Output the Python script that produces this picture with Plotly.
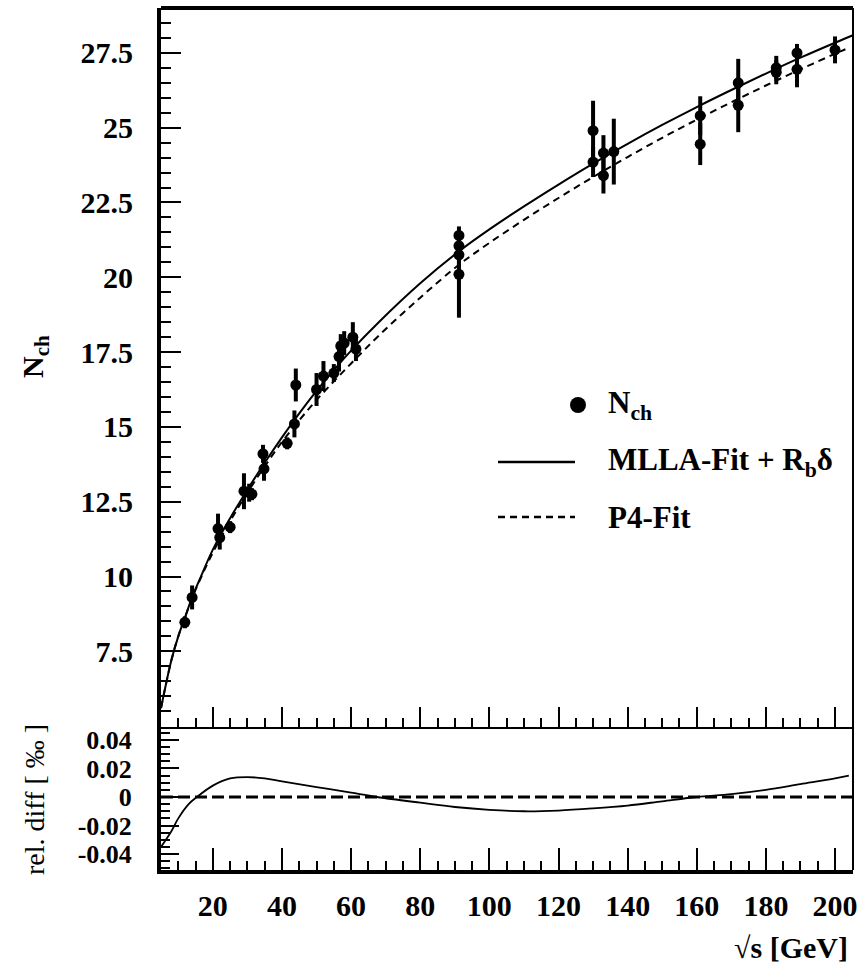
import plotly.graph_objects as go

# ---------------- data ----------------
sqrt_s = [11.9, 14.0, 21.5, 22.0, 25.0, 29.0, 30.5, 31.3, 34.5, 34.8, 41.5, 43.6, 44.0,
          50.0, 52.0, 55.0, 56.5, 57.0, 58.0, 60.5, 61.4,
          91.2, 91.2, 91.2, 91.2,
          130.0, 130.0, 133.0, 133.0, 136.0, 161.0, 161.0, 172.0, 172.0,
          183.0, 183.0, 189.0, 189.0, 200.0]
n_ch = [8.47, 9.3, 11.6, 11.3, 11.65, 12.85, 12.8, 12.75, 14.1, 13.6, 14.45, 15.1, 16.4,
        16.25, 16.7, 16.8, 17.35, 17.7, 17.8, 18.0, 17.6,
        21.4, 21.05, 20.75, 20.1,
        24.9, 23.85, 24.15, 23.4, 24.2, 25.4, 24.45, 26.5, 25.75,
        27.0, 26.85, 27.5, 26.95, 27.6]
n_ch_err = [0.2, 0.4, 0.5, 0.4, 0.2, 0.6, 0.3, 0.2, 0.3, 0.4, 0.2, 0.45, 0.55,
            0.55, 0.5, 0.3, 0.5, 0.4, 0.4, 0.5, 0.4,
            0.3, 0.3, 0.4, 1.45,
            1.0, 0.5, 0.6, 0.6, 1.1, 0.65, 0.7, 0.8, 0.9,
            0.4, 0.4, 0.3, 0.6, 0.45]

fit_x = [5, 8, 10, 12, 14, 16, 20, 25, 30, 35, 40, 45, 50, 55, 60, 68, 80, 91, 100, 110,
         120, 130, 140, 150, 160, 170, 180, 190, 200, 205]
mlla_fit = [5.6, 7.2, 8.0, 8.65, 9.3, 9.85, 10.9, 11.95, 12.9, 13.8, 14.65, 15.45, 16.2,
            16.9, 17.55, 18.5, 19.8, 20.85, 21.6, 22.37, 23.1, 23.8, 24.46, 25.09, 25.69,
            26.26, 26.81, 27.34, 27.84, 28.08]
p4_x = [5, 8, 10, 12, 14, 16, 20, 25, 30, 35, 40, 45, 50, 55, 60, 68, 80, 91, 100, 110,
        120, 130, 140, 150, 160, 170, 180, 190, 200, 203]
p4_fit = [5.6, 7.2, 8.0, 8.65, 9.28, 9.82, 10.8, 11.85, 12.8, 13.68, 14.5, 15.22, 15.9,
          16.52, 17.12, 18.05, 19.32, 20.4, 21.15, 21.92, 22.65, 23.35, 24.02, 24.66, 25.27,
          25.85, 26.41, 26.95, 27.47, 27.62]

diff_x = [5, 8, 10, 13, 15.4, 20, 25, 30, 35, 40, 50, 60, 67.5, 80, 90, 100, 110,
          120, 130, 140, 150, 160, 170, 180, 190, 200, 204]
rel_diff = [-0.035, -0.024, -0.015, -0.005, 0.0, 0.008, 0.013, 0.014, 0.013, 0.011,
            0.007, 0.003, 0.0, -0.004, -0.007, -0.009, -0.010, -0.0095, -0.008, -0.006,
            -0.003, 0.0, 0.002, 0.005, 0.009, 0.013, 0.015]

y_ticks = [7.5, 10, 12.5, 15, 17.5, 20, 22.5, 25, 27.5]
y_tick_text = ["7.5", "10", "12.5", "15", "17.5", "20", "22.5", "25", "27.5"]
d_ticks = [-0.04, -0.02, 0, 0.02, 0.04]
d_tick_text = ["-0.04", "-0.02", "0", "0.02", "0.04"]
x_ticks = [20, 40, 60, 80, 100, 120, 140, 160, 180, 200]

# ---------------- layout helpers ----------------
W, H = 868, 965
ML, MR, MT, MB = 161, 15, 8, 95
PW, PH = W - ML - MR, H - MT - MB
SPLIT = (870 - 727) / PH


def px(xpix):
    return (xpix - ML) / PW


def py(ypix):
    return (H - MB - ypix) / PH


FONT = "Liberation Serif"
tick_font = dict(family=FONT, size=30, color="black", weight="bold")
small_tick_font = dict(family=FONT, size=26, color="black", weight="bold")

fig = go.Figure()

fig.add_trace(go.Scatter(x=fit_x, y=mlla_fit, mode="lines", line=dict(color="black", width=2, shape="spline"),
                         xaxis="x", yaxis="y", showlegend=False, name="MLLA-Fit + Rbδ"))
fig.add_trace(go.Scatter(x=p4_x, y=p4_fit, mode="lines",
                         line=dict(color="black", width=2, dash="7px,5px", shape="spline"),
                         xaxis="x", yaxis="y", showlegend=False, name="P4-Fit"))
fig.add_trace(go.Scatter(x=sqrt_s, y=n_ch, mode="markers",
                         marker=dict(color="black", size=11),
                         error_y=dict(type="data", array=n_ch_err, color="black", thickness=4, width=0),
                         xaxis="x", yaxis="y", showlegend=False, name="Nch"))
fig.add_trace(go.Scatter(x=diff_x, y=rel_diff, mode="lines", line=dict(color="black", width=1.8, shape="spline"),
                         xaxis="x2", yaxis="y2", showlegend=False, name="rel. diff"))

shapes = [
    dict(type="line", xref="x2 domain", yref="y2", x0=0, x1=1, y0=0, y1=0,
         line=dict(color="black", width=3, dash="12px,5px")),
    dict(type="line", xref="x domain", yref="y domain", x0=0, x1=1, y0=1, y1=1,
         line=dict(color="black", width=4)),
    dict(type="line", xref="x domain", yref="y domain", x0=1, x1=1, y0=0, y1=1,
         line=dict(color="black", width=2)),
    dict(type="line", xref="x2 domain", yref="y2 domain", x0=1, x1=1, y0=0, y1=1,
         line=dict(color="black", width=2)),
    # legend
    dict(type="circle", xref="paper", yref="paper", x0=px(570), x1=px(586), y0=py(413), y1=py(397),
         fillcolor="black", line=dict(color="black", width=0)),
    dict(type="line", xref="paper", yref="paper", x0=px(498), x1=px(575), y0=py(462), y1=py(462),
         line=dict(color="black", width=2.5)),
    dict(type="line", xref="paper", yref="paper", x0=px(498), x1=px(575), y0=py(517), y1=py(517),
         line=dict(color="black", width=2.5, dash="7px,5px")),
]

ann_font = dict(family=FONT, size=31, color="black", weight="bold")
annotations = [
    dict(text="N<sub>ch</sub>", x=px(35), y=py(357), xref="paper", yref="paper", textangle=-90,
         xanchor="center", yanchor="middle",
         showarrow=False, font=dict(family=FONT, size=30, color="black", weight="bold")),
    dict(text="rel. diff [ ‰ ]", x=px(34), y=py(800), xref="paper", yref="paper", textangle=-90,
         xanchor="center", yanchor="middle",
         showarrow=False, font=dict(family=FONT, size=28, color="black")),
    dict(text="√s [GeV]", x=px(850), y=py(947), xref="paper", yref="paper",
         xanchor="right", yanchor="middle",
         showarrow=False, font=dict(family=FONT, size=30, color="black", weight="bold")),
    dict(text="N<sub>ch</sub>", x=px(606), y=py(405), xref="paper", yref="paper",
         xanchor="left", yanchor="middle", showarrow=False, font=ann_font),
    dict(text="MLLA-Fit + R<sub>b</sub>δ", x=px(606), y=py(462), xref="paper", yref="paper",
         xanchor="left", yanchor="middle", showarrow=False, font=ann_font),
    dict(text="P4-Fit", x=px(606), y=py(517), xref="paper", yref="paper",
         xanchor="left", yanchor="middle", showarrow=False, font=ann_font),
]

XR = [5, 205.2]
fig.update_layout(
    width=W, height=H,
    margin=dict(l=ML, r=MR, t=MT, b=MB),
    paper_bgcolor="white", plot_bgcolor="white",
    showlegend=False,
    shapes=shapes, annotations=annotations,
    xaxis=dict(domain=[0, 1], anchor="y", range=XR, showgrid=False, zeroline=False,
               showline=True, linewidth=2, linecolor="black",
               ticks="inside", tickmode="linear", tick0=0, dtick=20, ticklen=20, tickwidth=2,
               tickcolor="black", showticklabels=False,
               minor=dict(ticks="inside", tick0=0, dtick=5, ticklen=9, tickwidth=2, tickcolor="black")),
    yaxis=dict(domain=[SPLIT, 1], anchor="x", range=[4.97, 29.0], showgrid=False, zeroline=False,
               showline=True, linewidth=4, linecolor="black",
               ticks="inside", tickmode="array", tickvals=y_ticks, ticktext=y_tick_text,
               ticklen=20, tickwidth=2, tickcolor="black", tickfont=tick_font, ticklabelstandoff=18,
               minor=dict(ticks="inside", tickmode="linear", tick0=5, dtick=0.5, ticklen=10,
                          tickwidth=2, tickcolor="black")),
    xaxis2=dict(domain=[0, 1], anchor="y2", range=XR, matches="x", showgrid=False, zeroline=False,
                showline=True, linewidth=4, linecolor="black",
                ticks="inside", tickmode="array", tickvals=x_ticks, ticklen=22, tickwidth=2,
                tickcolor="black", tickfont=tick_font, ticklabelstandoff=6,
                minor=dict(ticks="inside", tickmode="linear", tick0=0, dtick=5, ticklen=9,
                           tickwidth=2, tickcolor="black")),
    yaxis2=dict(domain=[0, SPLIT], anchor="x2", range=[-0.0512, 0.0491], showgrid=False, zeroline=False,
                showline=True, linewidth=4, linecolor="black",
                ticks="inside", tickmode="array", tickvals=d_ticks, ticktext=d_tick_text,
                ticklen=18, tickwidth=2, tickcolor="black", tickfont=small_tick_font,
                ticklabelstandoff=20,
                minor=dict(ticks="inside", tickmode="linear", tick0=0, dtick=0.005, ticklen=9,
                           tickwidth=2, tickcolor="black")),
)

fig.write_html("out.html", config={"displayModeBar": False},
               post_script="document.body.style.margin='0';")
